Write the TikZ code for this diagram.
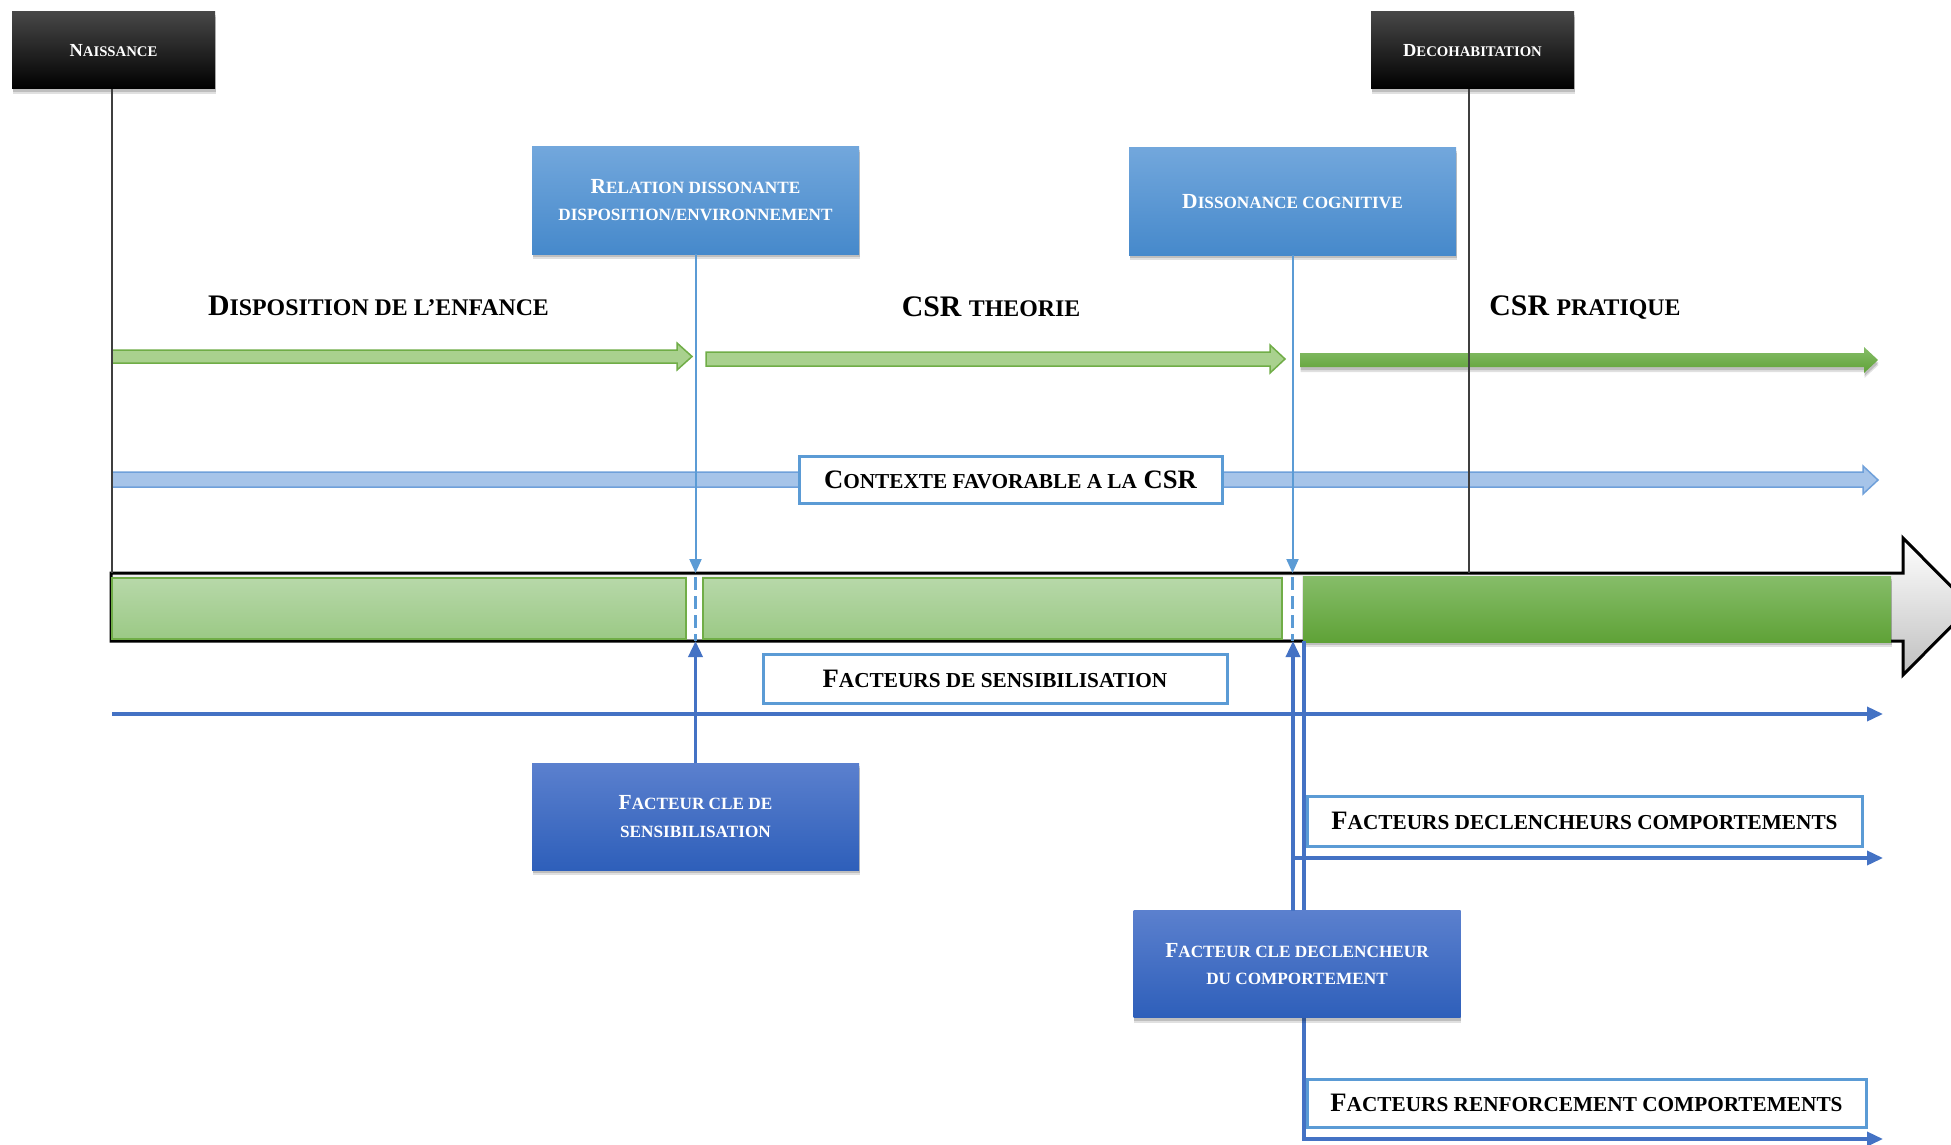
\documentclass[tikz,border=0pt]{standalone}
\usepackage{fontspec}
\setmainfont{Liberation Serif}
\usepackage{graphicx}
\usetikzlibrary{arrows.meta,shadows,calc}
\definecolor{lblue}{HTML}{5B9BD5}
\definecolor{dblue}{HTML}{4472C4}
\definecolor{gborder}{HTML}{70AD47}
\definecolor{garrow}{HTML}{A9D18E}
\definecolor{segtop}{HTML}{B7D8A9}
\definecolor{segbot}{HTML}{9BC985}
\definecolor{dgtop}{HTML}{86BD69}
\definecolor{dgbot}{HTML}{5FA237}
\definecolor{rbtop}{HTML}{72A7DC}
\definecolor{rbbot}{HTML}{4689CB}
\definecolor{dbtop}{HTML}{5B80CE}
\definecolor{dbbot}{HTML}{2E5FBA}
\definecolor{lbfill}{HTML}{A6C4E9}
\definecolor{lbdraw}{HTML}{6FA0DA}
\definecolor{vline}{HTML}{3F3F3F}
\newcommand\Sm[1]{\scalebox{0.8}{#1}}
\tikzset{
  shad/.style={drop shadow={shadow xshift=0.5pt,shadow yshift=-5pt,opacity=0.12,fill=black},
               drop shadow={shadow xshift=0.5pt,shadow yshift=-3pt,opacity=0.15,fill=black}},
  blackbox/.style={shad,top color=black!72,middle color=black,bottom color=black,text=white,
    font=\fontsize{18.4}{22}\selectfont\bfseries,minimum width=203pt,minimum height=77pt,inner sep=0pt,outer sep=0pt},
  lbbox/.style={shad,top color=rbtop,bottom color=rbbot,text=white,align=center,
    font=\fontsize{21.5}{27}\selectfont\bfseries,minimum width=327pt,minimum height=107pt,inner sep=0pt,outer sep=0pt},
  dbbox/.style={shad,top color=dbtop,bottom color=dbbot,text=white,align=center,
    font=\fontsize{21.5}{27.5}\selectfont\bfseries,minimum width=327pt,minimum height=107pt,inner sep=0pt,outer sep=0pt},
  wbox/.style={fill=white,draw=lblue,line width=3pt,font=\fontsize{26.6}{30}\selectfont\bfseries,
    inner sep=0pt,outer sep=0pt},
  biglabel/.style={font=\fontsize{29.8}{34}\selectfont\bfseries,anchor=base,inner sep=0pt},
  seglight/.style={top color=segtop,bottom color=segbot,draw=gborder,line width=1.5pt,inner sep=0pt,outer sep=0pt,minimum height=61pt},
  segdark/.style={shad,top color=dgtop,bottom color=dgbot,inner sep=0pt,outer sep=0pt,minimum height=66pt},
  lbline/.style={draw=lblue,line width=2pt},
  lbarrow/.style={lbline,-{Triangle[width=12pt,length=14pt]}},
  dashedblue/.style={draw=lblue,line width=3.5pt,dash pattern=on 13pt off 6pt},
  dbline/.style={draw=dblue,line width=3.5pt},
  dbarrow/.style={dbline,-{Triangle[width=14pt,length=16pt]}},
  blackline/.style={draw=vline,line width=1.6pt},
}
\begin{document}
\begin{tikzpicture}[x=1pt,y=-1pt]
\useasboundingbox (0,0) rectangle (1951,1145);
\fill[white] (0,0) rectangle (1951,1145);

% axis coordinates
\coordinate (axt) at (0,573);
\coordinate (axb) at (0,641);

% big timeline arrow
\shade[top color=white,bottom color=black!25,draw=black,line width=3pt]
  (111,573) -- (1903,573) -- (1903,538) -- (1971,606.5) -- (1903,675) -- (1903,641) -- (111,641) -- cycle;
\fill[white] (687,576) rectangle (702,639);
\fill[white] (1283,576) rectangle (1302,639);

% segments
\node[seglight,minimum width=574pt] (seg1) at (399,608.5) {};
\node[seglight,minimum width=579pt] (seg2) at (992.5,608.5) {};
\node[segdark,minimum width=588pt] (seg3) at (1597,609) {};

% green arrows
\filldraw[fill=garrow,draw=gborder,line width=1.5pt]
  (112,350) -- (677,350) -- (677,343) -- (692,356.5) -- (677,370) -- (677,363) -- (112,363) -- cycle;
\filldraw[fill=garrow,draw=gborder,line width=1.5pt]
  (706,352) -- (1270,352) -- (1270,345) -- (1285,359) -- (1270,373) -- (1270,366) -- (706,366) -- cycle;
\shade[shad,top color=dgtop,bottom color=dgbot]
  (1300,353) -- (1864,353) -- (1864,347) -- (1878,360) -- (1864,373) -- (1864,367) -- (1300,367) -- cycle;

% light blue context arrow
\filldraw[fill=lbfill,draw=lbdraw,line width=1.5pt]
  (112,472) -- (1863,472) -- (1863,466) -- (1878,480) -- (1863,494) -- (1863,487) -- (112,487) -- cycle;

% top boxes
\node[blackbox] (nais) at (113.5,50.5) {N\Sm{AISSANCE}};
\node[blackbox] (deco) at (1472.5,50.5) {D\Sm{ECOHABITATION}};
\node[lbbox] (rel) at (695.5,200.5) {R\Sm{ELATION DISSONANTE}\\\Sm{DISPOSITION/ENVIRONNEMENT}};
\node[lbbox] (diss) at (1292.5,201.5) {D\Sm{ISSONANCE COGNITIVE}};

% black vertical lines
\draw[blackline] (nais.south -| 112,0) -- (axt -| 112,0);
\coordinate (decoline) at (1469,89);
\draw[blackline] (decoline) -- (decoline |- axt);

% labels
\node[biglabel] (lab1) at (378.5,315) {D\Sm{ISPOSITION DE L’ENFANCE}};
\node[biglabel] (lab2) at (991,316) {CSR \Sm{THEORIE}};
\node[biglabel] (lab3) at (1585,315) {CSR \Sm{PRATIQUE}};

% context box
\node[wbox,minimum width=423pt,minimum height=47pt] (ctx) at (1010.5,479.5) {C\Sm{ONTEXTE FAVORABLE A LA} CSR};

% down arrows from top boxes
\draw[lbarrow] (rel.south) -- (rel.south |- axt);
\draw[lbarrow] (diss.south) -- (diss.south |- axt);
% dashed through axis
\draw[dashedblue] (rel.south |- axt) ++(0,4) -- (rel.south |- axb);
\draw[dashedblue] (diss.south |- axt) ++(0,4) -- (diss.south |- axb);

% sensibilisation
\node[wbox,minimum width=464pt,minimum height=49pt] (sens) at (995,678.5) {F\Sm{ACTEURS DE SENSIBILISATION}};
\coordinate (hs) at (112,714);
\coordinate (he) at (1883,714);
\draw[dbarrow] (hs) -- (he);

\node[dbbox] (fcs) at (695.5,816.5) {F\Sm{ACTEUR CLE DE}\\\Sm{SENSIBILISATION}};
\draw[dbarrow] (fcs.north) -- (fcs.north |- axb);

% declencheurs
\node[wbox,minimum width=555pt,minimum height=50pt] (decl) at (1584.5,821) {F\Sm{ACTEURS DECLENCHEURS COMPORTEMENTS}};
\coordinate (ds) at (1293,858);
\coordinate (de) at (1883,858);
\draw[dbarrow] (ds) -- (de);

% renforcement path
\coordinate (rtop) at (1304,641);
\coordinate (rcorner) at (1304,1139);
\coordinate (rend) at (1883,1139);
\draw[dbarrow] (rtop) -- (rcorner) -- (rend);

\node[dbbox] (fcd) at (1297,964) {F\Sm{ACTEUR CLE DECLENCHEUR}\\\Sm{DU COMPORTEMENT}};
\coordinate (fcdl) at (1293,911);
\draw[dbarrow] (fcdl) -- (fcdl |- axb);

\node[wbox,minimum width=559pt,minimum height=48pt] (renf) at (1586.5,1103) {F\Sm{ACTEURS RENFORCEMENT COMPORTEMENTS}};
\end{tikzpicture}
\end{document}
